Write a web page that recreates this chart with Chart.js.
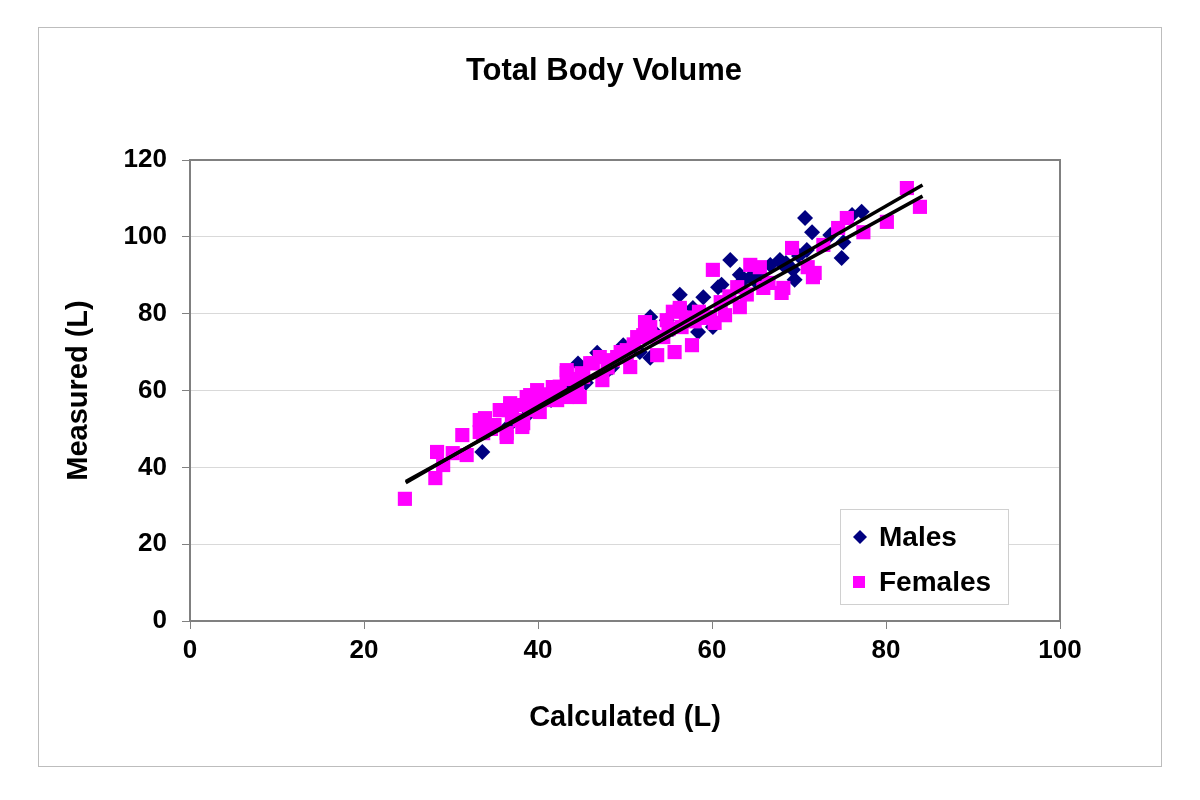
<!DOCTYPE html>
<html>
<head>
<meta charset="utf-8">
<title>Total Body Volume</title>
<script src="https://cdn.jsdelivr.net/npm/chart.js@4.4.1/dist/chart.umd.min.js"></script>
<style>
  body { margin: 0; background: #ffffff; }
  #wrap { width: 1200px; height: 800px; }
</style>
</head>
<body>
<div id="wrap"><canvas id="volChart" width="1200" height="800"></canvas></div>
<script>
// Values (Calculated vs Measured, litres)
const chartTitle = "Total Body Volume";
const xTicks = [0, 20, 40, 60, 80, 100];
const yTicks = [0, 20, 40, 60, 80, 100, 120];

const maleCalc = [33.6, 36.5, 38.5, 40.0, 41.5, 42.5, 43.5, 44.6, 45.5, 46.8, 47.7, 48.5, 49.8, 51.7, 52.9, 52.9, 53.5, 54.8, 55.5, 56.3, 57.5, 57.8, 58.4, 59.0, 60.1, 60.7, 61.1, 62.1, 63.2, 63.5, 64.4, 65.2, 65.5, 66.7, 67.8, 68.2, 68.5, 69.3, 69.5, 70.0, 70.7, 70.9, 71.5, 73.6, 74.9, 75.1, 76.1, 77.2];
const maleMeas = [44.0, 50.5, 53.0, 56.0, 57.5, 59.0, 61.0, 67.0, 62.0, 69.8, 64.5, 66.0, 71.8, 70.0, 79.1, 68.5, 75.0, 78.3, 76.0, 84.9, 78.3, 81.5, 75.2, 84.3, 76.5, 86.9, 87.5, 94.0, 90.1, 88.5, 89.5, 88.0, 90.5, 92.7, 94.0, 92.7, 93.2, 91.4, 88.8, 95.0, 104.9, 96.6, 101.2, 100.5, 94.5, 98.6, 105.7, 106.5];

const femaleCalc = [24.7, 28.2, 28.4, 29.1, 30.2, 31.3, 31.8, 33.3, 33.3, 33.7, 33.9, 34.6, 35.0, 35.6, 36.0, 36.4, 36.4, 36.8, 36.8, 37.0, 37.7, 37.9, 38.2, 38.3, 38.7, 39.1, 39.1, 39.4, 39.9, 40.2, 40.6, 41.0, 41.7, 42.2, 42.5, 43.3, 43.3, 43.3, 44.0, 44.5, 44.8, 45.0, 45.2, 46.0, 46.3, 47.1, 47.4, 48.0, 48.6, 49.1, 49.5, 50.2, 50.2, 50.6, 51.0, 51.4, 52.1, 52.3, 52.9, 53.0, 53.7, 54.4, 54.8, 55.0, 55.5, 55.7, 56.3, 56.3, 56.5, 57.0, 57.7, 58.0, 58.5, 59.4, 59.8, 60.1, 60.3, 61.0, 61.5, 62.0, 62.9, 63.2, 64.0, 64.4, 65.5, 65.9, 66.5, 68.0, 68.2, 69.2, 71.0, 71.6, 71.8, 72.8, 74.5, 75.5, 77.4, 80.1, 82.4, 83.9];
const femaleMeas = [31.8, 37.2, 44.0, 40.6, 43.7, 48.4, 43.2, 49.2, 52.3, 48.9, 52.8, 50.0, 51.0, 54.9, 54.9, 47.9, 48.9, 55.7, 56.7, 53.5, 56.2, 52.3, 50.5, 51.5, 58.3, 54.9, 58.8, 58.0, 60.1, 54.4, 57.5, 59.0, 60.9, 57.5, 61.0, 58.3, 64.5, 65.3, 63.0, 61.9, 58.3, 64.5, 63.5, 67.1, 67.1, 68.7, 62.7, 66.0, 67.9, 68.7, 70.0, 69.8, 70.5, 66.1, 72.0, 73.9, 74.4, 77.8, 76.5, 74.0, 69.2, 73.9, 78.3, 76.0, 80.5, 70.0, 81.0, 81.5, 76.5, 79.0, 71.8, 78.0, 80.5, 78.9, 79.1, 91.4, 77.6, 83.0, 79.6, 84.5, 86.9, 81.7, 85.0, 92.7, 92.1, 86.7, 88.0, 85.4, 86.7, 97.1, 92.1, 89.5, 90.6, 97.9, 102.3, 104.9, 101.2, 103.9, 112.7, 107.8];

// two fitted lines, endpoints only
const trendCalc = [24.8, 84.2];
const maleTrend = [36.0, 113.5];
const femaleTrend = [36.3, 110.6];

function toPoints(xs, ys) {
  return xs.map(function(x, i) { return { x: x, y: ys[i] }; });
}

const fontFamily = "'Liberation Sans', Arial, sans-serif";

// outer frame, title, plot border and the boxed legend inside the plot
const framePlugin = {
  id: "framePlugin",
  beforeDraw(chart) {
    const ctx = chart.ctx;
    ctx.save();
    ctx.fillStyle = "#ffffff";
    ctx.fillRect(0, 0, chart.width, chart.height);
    ctx.strokeStyle = "#bdbdbd";
    ctx.lineWidth = 1;
    ctx.strokeRect(38.5, 27.5, 1123, 739);
    // title centred on the outer frame, like the original
    ctx.fillStyle = "#000000";
    ctx.font = "bold 31px " + fontFamily;
    ctx.textAlign = "center";
    ctx.textBaseline = "middle";
    ctx.fillText(chartTitle, 604, 71);
    ctx.restore();
  },
  beforeDatasetsDraw(chart) {
    const a = chart.chartArea;
    const ctx = chart.ctx;
    ctx.save();
    ctx.strokeStyle = "#808080";
    ctx.lineWidth = 2;
    ctx.strokeRect(a.left, a.top, a.right - a.left, a.bottom - a.top);
    ctx.restore();
  },
  afterDraw(chart) {
    const ctx = chart.ctx;
    const items = [
      { text: "Males", color: "#000080", shape: "diamond", y: 537 },
      { text: "Females", color: "#ff00ff", shape: "square", y: 582 }
    ];
    ctx.save();
    ctx.fillStyle = "#ffffff";
    ctx.fillRect(840, 509, 168, 95);
    ctx.strokeStyle = "#d0d0d0";
    ctx.lineWidth = 1;
    ctx.strokeRect(840.5, 509.5, 168, 95);
    ctx.font = "bold 28px " + fontFamily;
    ctx.textBaseline = "middle";
    items.forEach(function(it) {
      ctx.fillStyle = it.color;
      if (it.shape === "diamond") {
        ctx.beginPath();
        ctx.moveTo(860, it.y - 7);
        ctx.lineTo(867, it.y);
        ctx.lineTo(860, it.y + 7);
        ctx.lineTo(853, it.y);
        ctx.closePath();
        ctx.fill();
      } else {
        ctx.fillRect(853, it.y - 6, 12, 12);
      }
      ctx.fillStyle = "#000000";
      ctx.fillText(it.text, 879, it.y + 1);
    });
    ctx.restore();
  }
};

const ctx = document.getElementById("volChart").getContext("2d");
new Chart(ctx, {
  type: "scatter",
  data: {
    datasets: [
      {
        label: "Males trend",
        data: toPoints(trendCalc, maleTrend),
        showLine: true,
        borderColor: "#000000",
        borderWidth: 3.5,
        pointRadius: 0,
        order: 0
      },
      {
        label: "Females trend",
        data: toPoints(trendCalc, femaleTrend),
        showLine: true,
        borderColor: "#000000",
        borderWidth: 3.5,
        pointRadius: 0,
        order: 0
      },
      {
        label: "Females",
        data: toPoints(femaleCalc, femaleMeas),
        pointStyle: "rect",
        pointRadius: 10,
        pointBorderWidth: 0,
        backgroundColor: "#ff00ff",
        borderColor: "#ff00ff",
        order: 1
      },
      {
        label: "Males",
        data: toPoints(maleCalc, maleMeas),
        pointStyle: "rectRot",
        pointRadius: 8,
        pointBorderWidth: 0,
        backgroundColor: "#000080",
        borderColor: "#000080",
        order: 2
      }
    ]
  },
  options: {
    responsive: false,
    animation: false,
    devicePixelRatio: 1,
    layout: {
      padding: { top: 160, left: 62, right: 140, bottom: 65 }
    },
    plugins: {
      legend: { display: false },
      tooltip: { enabled: false },
      title: { display: false }
    },
    scales: {
      x: {
        type: "linear",
        min: xTicks[0],
        max: xTicks[xTicks.length - 1],
        afterBuildTicks(scale) {
          scale.ticks = xTicks.map(function(v) { return { value: v }; });
        },
        afterFit(scale) { scale.height = 114; },
        grid: {
          drawOnChartArea: false,
          drawTicks: true,
          tickLength: 8,
          tickColor: "#808080"
        },
        border: { display: false },
        ticks: {
          color: "#000000",
          padding: 6,
          maxRotation: 0,
          font: { family: fontFamily, size: 26, weight: "bold" }
        },
        title: {
          display: true,
          text: "Calculated (L)",
          color: "#000000",
          padding: 0,
          font: { family: fontFamily, size: 29, weight: "bold" }
        }
      },
      y: {
        type: "linear",
        min: yTicks[0],
        max: yTicks[yTicks.length - 1],
        afterBuildTicks(scale) {
          scale.ticks = yTicks.map(function(v) { return { value: v }; });
        },
        afterFit(scale) { scale.width = 128; },
        grid: {
          color: "#d9d9d9",
          lineWidth: 1,
          drawTicks: true,
          tickLength: 8,
          tickColor: "#808080"
        },
        border: { display: false },
        ticks: {
          color: "#000000",
          padding: 15,
          font: { family: fontFamily, size: 26, weight: "bold" }
        },
        title: {
          display: true,
          text: "Measured (L)",
          color: "#000000",
          padding: 0,
          font: { family: fontFamily, size: 29, weight: "bold" }
        }
      }
    }
  },
  plugins: [framePlugin]
});
</script>
</body>
</html>
